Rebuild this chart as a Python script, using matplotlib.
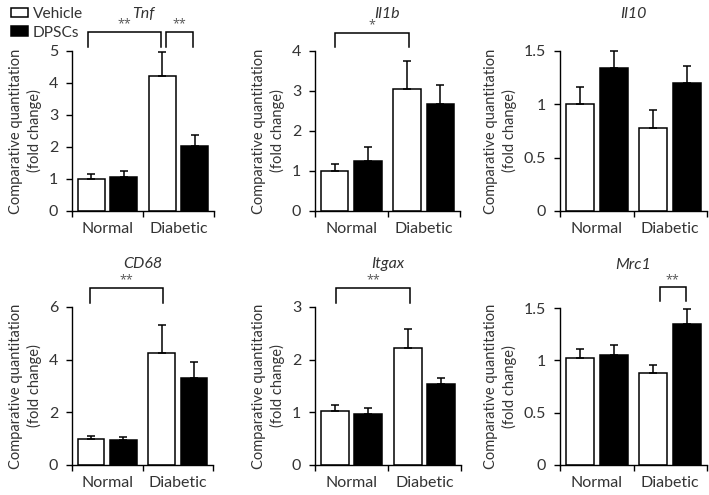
import matplotlib
matplotlib.use("Agg")
import matplotlib.pyplot as plt
from matplotlib.patches import Patch
from matplotlib.ticker import FormatStrFormatter, FixedLocator

plt.rcParams['font.family'] = ['Lato', 'DejaVu Sans']

genes = ['Tnf', 'Il1b', 'Il10', 'CD68', 'Itgax', 'Mrc1']
groups = ['Normal', 'Diabetic']
series = ['Vehicle', 'DPSCs']

normal_vehicle = [1.01, 1.00, 1.00, 0.98, 1.02, 1.02]
normal_vehicle_err = [0.16, 0.18, 0.16, 0.13, 0.11, 0.09]
normal_dpsc = [1.05, 1.26, 1.34, 0.96, 0.97, 1.05]
normal_dpsc_err = [0.21, 0.35, 0.16, 0.11, 0.11, 0.10]
diabetic_vehicle = [4.23, 3.05, 0.78, 4.24, 2.23, 0.88]
diabetic_vehicle_err = [0.75, 0.71, 0.17, 1.09, 0.36, 0.08]
diabetic_dpsc = [2.04, 2.67, 1.20, 3.30, 1.53, 1.35]
diabetic_dpsc_err = [0.33, 0.49, 0.16, 0.60, 0.13, 0.14]

yticks = [[0, 1, 2, 3, 4, 5], [0, 1, 2, 3, 4], [0, 0.5, 1, 1.5],
          [0, 2, 4, 6], [0, 1, 2, 3], [0, 0.5, 1, 1.5]]

# significance brackets: (gene index, x left, x right, top, leg bottom, label)
brackets = [
    (0, 0.22, 1.25, 5.60, 5.13, '**'),
    (0, 1.33, 1.70, 5.60, 5.13, '**'),
    (1, 0.28, 1.29, 4.46, 4.10, '*'),
    (3, 0.25, 1.29, 6.73, 6.17, '**'),
    (4, 0.29, 1.30, 3.36, 3.07, '**'),
    (5, 1.355, 1.71, 1.697, 1.564, '**'),
]

W, H = 709, 495
fig = plt.figure(figsize=(W / 100, H / 100), dpi=100)

# axes rectangles in pixels: left, right, top(max tick), bottom(zero)
rects = [
    (72, 214, 51, 211), (315, 460, 51, 211), (560, 707, 51, 211),
    (72, 213, 307, 465), (315, 461, 307, 465), (560, 707, 308, 465),
]

txt_color = '#333333'
bar_w = 0.38
off = 0.23
axes = []
for i, g in enumerate(genes):
    l, r, t, b = rects[i]
    ax = fig.add_axes([l / W, (H - b) / H, (r - l) / W, (b - t) / H])
    axes.append(ax)
    vmeans = [normal_vehicle[i], diabetic_vehicle[i]]
    verrs = [normal_vehicle_err[i], diabetic_vehicle_err[i]]
    dmeans = [normal_dpsc[i], diabetic_dpsc[i]]
    derrs = [normal_dpsc_err[i], diabetic_dpsc_err[i]]
    xs = [0.5, 1.5]
    xv = [x - off for x in xs]
    xd = [x + off for x in xs]
    ax.bar(xv, vmeans, width=bar_w, color='white', edgecolor='black', linewidth=1.1,
           yerr=[[0, 0], verrs], capsize=3.2,
           error_kw=dict(ecolor='black', elinewidth=1.1, capthick=1.1), zorder=2,
           clip_on=False)
    ax.bar(xd, dmeans, width=bar_w, color='black', edgecolor='black', linewidth=1.1,
           yerr=[[0, 0], derrs], capsize=3.2,
           error_kw=dict(ecolor='black', elinewidth=1.1, capthick=1.1), zorder=2,
           clip_on=False)
    for line in ax.lines:
        line.set_clip_on(False)
    for coll in ax.collections:
        coll.set_clip_on(False)
    ax.set_xlim(0, 2)
    ax.set_ylim(0, yticks[i][-1])
    ax.set_yticks(yticks[i])
    ax.yaxis.set_major_formatter(FormatStrFormatter('%g'))
    ax.xaxis.set_major_locator(FixedLocator([0, 1, 2]))
    ax.xaxis.set_minor_locator(FixedLocator(xs))
    ax.set_xticklabels([], minor=False)
    ax.set_xticklabels(groups, minor=True)
    ax.tick_params(axis='x', which='major', length=4, width=1, direction='out')
    ax.tick_params(axis='x', which='minor', length=0, pad=8, labelsize=11.5, labelcolor=txt_color)
    ax.tick_params(axis='y', length=4, width=1, direction='out', pad=6, labelsize=11.5,
                   labelcolor=txt_color)
    for s in ['top', 'right']:
        ax.spines[s].set_visible(False)
    for s in ['left', 'bottom']:
        ax.spines[s].set_linewidth(1)
    ax.set_ylabel('Comparative quantitation\n(fold change)', fontsize=10.5,
                  color=txt_color, labelpad=5, linespacing=1.3)
    pad = 24 if i < 3 else 28
    ax.set_title(g, fontstyle='italic', fontsize=11.5, color=txt_color, pad=pad)

for gi, x1, x2, top, leg, lab in brackets:
    ax = axes[gi]
    ax.plot([x1, x1, x2, x2], [leg, top, top, leg], color='black', lw=1.1,
            clip_on=False, solid_joinstyle='miter')
    ax.annotate(lab, xy=((x1 + x2) / 2, top), xytext=(0, 1), textcoords='offset points',
                ha='center', va='bottom', fontsize=9, color='#555555',
                family=['Open Sans', 'DejaVu Sans'], annotation_clip=False)

handles = [Patch(facecolor='white', edgecolor='black', linewidth=1.1, label=series[0]),
           Patch(facecolor='black', edgecolor='black', linewidth=1.1, label=series[1])]
fig.legend(handles=handles, loc='upper left', bbox_to_anchor=(0.0, 1.008),
           frameon=False, fontsize=11.2, handlelength=1.1, handleheight=0.6,
           handletextpad=0.3, labelspacing=0.3, borderaxespad=0.3, labelcolor=txt_color)

fig.savefig('out.png', dpi=100)
